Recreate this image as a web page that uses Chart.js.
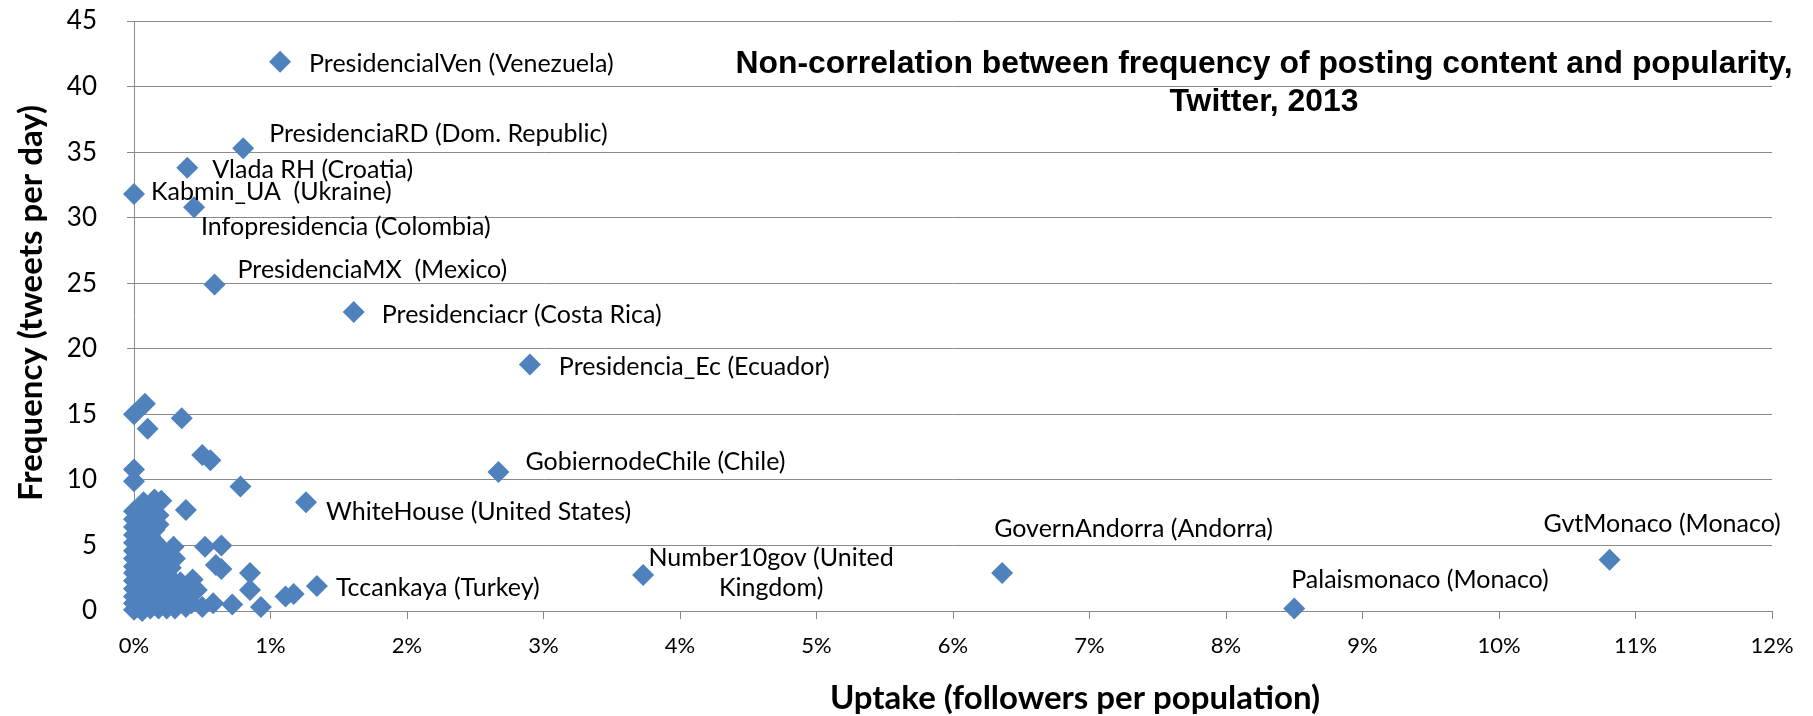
<!DOCTYPE html>
<html>
<head>
<meta charset="utf-8">
<script src="https://cdn.jsdelivr.net/npm/chart.js@4.4.1/dist/chart.umd.min.js"></script>
<style>
  html, body { margin: 0; padding: 0; background: #ffffff; overflow: hidden; }
  #wrap { width: 1813px; height: 716px; position: relative; }
</style>
</head>
<body>
<div id="wrap"><canvas id="chart" width="1813" height="716"></canvas></div>
<script>
// ---------- DATA ----------
const chartTitleLines = ['Non-correlation between frequency of posting content and popularity,', 'Twitter, 2013'];
const xAxisTitle = 'Uptake (followers per population)';
const yAxisTitle = 'Frequency (tweets per day)';

const xTickValues = [0, 1, 2, 3, 4, 5, 6, 7, 8, 9, 10, 11, 12];        // percent
const yTickValues = [0, 5, 10, 15, 20, 25, 30, 35, 40, 45];

const namedAccounts = [
  'PresidencialVen (Venezuela)',
  'PresidenciaRD (Dom. Republic)',
  'Vlada RH (Croatia)',
  'Kabmin_UA  (Ukraine)',
  'Infopresidencia (Colombia)',
  'PresidenciaMX  (Mexico)',
  'Presidenciacr (Costa Rica)',
  'Presidencia_Ec (Ecuador)',
  'GobiernodeChile (Chile)',
  'WhiteHouse (United States)',
  'Tccankaya (Turkey)',
  'Number10gov (United Kingdom)',
  'GovernAndorra (Andorra)',
  'Palaismonaco (Monaco)',
  'GvtMonaco (Monaco)'
];
const namedUptake    = [1.07, 0.80, 0.39, 0.00, 0.44, 0.59, 1.61, 2.90, 2.67, 1.26, 1.34, 3.73, 6.36, 8.50, 10.81];
const namedFrequency = [41.9, 35.3, 33.8, 31.8, 30.8, 24.9, 22.8, 18.8, 10.6, 8.3, 1.9, 2.75, 2.9, 0.2, 3.9];

const otherUptake = [
  0.08, 0.00, 0.10, 0.35, 0.50, 0.56, 0.00, 0.00, 0.78, 0.38,
  0.52, 0.64, 0.64, 0.60, 0.85, 0.85, 0.93, 1.11, 1.17, 0.72, 0.58, 0.46, 0.43, 0.50, 0.29,
  0.00, 0.00, 0.00, 0.00, 0.00, 0.00, 0.00, 0.00, 0.00, 0.00, 0.00, 0.00, 0.00, 0.00,
  0.03, 0.03, 0.03, 0.03, 0.03, 0.03, 0.03, 0.03, 0.03, 0.03, 0.03, 0.03, 0.03,
  0.06, 0.06, 0.06, 0.06, 0.06, 0.06, 0.06, 0.06, 0.06, 0.06, 0.06, 0.06, 0.06, 0.07,
  0.09, 0.09, 0.09, 0.09, 0.09, 0.09, 0.09, 0.09, 0.09, 0.09,
  0.12, 0.12, 0.12, 0.12, 0.12, 0.12, 0.12, 0.12, 0.12,
  0.15, 0.15, 0.15, 0.15, 0.15, 0.15, 0.15, 0.15, 0.15,
  0.18, 0.18, 0.18, 0.18, 0.18, 0.18, 0.18, 0.18, 0.18, 0.20,
  0.21, 0.21, 0.21, 0.21, 0.21, 0.21,
  0.24, 0.24, 0.24, 0.24, 0.24, 0.24,
  0.27, 0.27, 0.27, 0.27,
  0.30, 0.30, 0.30, 0.30,
  0.34, 0.34, 0.34,
  0.38, 0.38, 0.42, 0.42
];
const otherFrequency = [
  15.8, 15.0, 13.9, 14.7, 11.9, 11.5, 10.8, 9.9, 9.5, 7.7,
  4.9, 5.0, 3.2, 3.5, 2.9, 1.6, 0.3, 1.1, 1.3, 0.5, 0.6, 1.6, 2.4, 0.3, 4.9,
  0.1, 0.6, 1.1, 1.7, 2.3, 2.9, 3.4, 4.0, 4.6, 5.2, 5.8, 6.4, 7.0, 7.6,
  0.3, 0.9, 1.5, 2.1, 2.7, 3.3, 3.9, 4.5, 5.0, 5.6, 6.2, 6.9, 7.4,
  0.0, 0.7, 1.3, 1.9, 2.5, 3.1, 3.7, 4.3, 4.9, 5.5, 6.1, 6.7, 7.9, 8.3,
  0.4, 1.0, 1.6, 2.2, 2.8, 4.0, 4.6, 5.3, 6.0, 7.1,
  0.2, 0.9, 1.8, 2.5, 4.3, 5.0, 5.7, 6.5, 7.5,
  0.5, 1.3, 2.0, 3.0, 3.8, 4.6, 5.3, 6.2, 8.5,
  0.2, 1.0, 1.7, 2.6, 3.5, 4.2, 5.0, 6.6, 7.3, 8.4,
  0.6, 1.4, 2.2, 3.1, 3.9, 4.6,
  0.2, 1.0, 1.8, 2.8, 3.6, 4.3,
  0.6, 1.5, 2.4, 3.3,
  0.2, 1.1, 2.0, 4.0,
  0.7, 1.5, 2.2,
  0.3, 1.1, 0.6, 1.4
];

// ---------- LAYOUT / STYLE ----------
const BLUE = '#4F81BD';
const GRID = '#8a8a8a';
const LABEL_FONT = '25px Lato';
const Y_TICK_FONT = { family: 'Lato', size: 26 };
const X_TICK_FONT = { family: 'Lato', size: 22 };
const AXIS_TITLE_FONT = 'bold 33px Lato';
const TITLE_FONT = 'bold 31px "Liberation Sans"';
const TITLE_WIDTH = 1057;

// label offset from its point, in pixels: [dx, dy, mode]
const labelOffsets = [
  [29, 2], [26, -14], [25, 2], [17, -2], [7, 20], [23, -15], [28, 3], [29, 2],
  [27, -10], [20, 10], [19, 2], [128, -2, 'wrap'], [-8, -44], [-3, -28], [-66, -36]
];

const namedPoints = namedUptake.map((x, i) => ({ x, y: namedFrequency[i] }));
const otherPoints = otherUptake.map((x, i) => ({ x, y: otherFrequency[i] }));

const textPlugin = {
  id: 'textPlugin',
  afterDatasetsDraw(chart) {
    const { ctx, scales: { x: xs, y: ys } } = chart;
    ctx.save();
    ctx.fillStyle = '#000';
    ctx.font = LABEL_FONT;
    ctx.textBaseline = 'middle';
    namedAccounts.forEach((name, i) => {
      const px = xs.getPixelForValue(namedUptake[i]);
      const py = ys.getPixelForValue(namedFrequency[i]);
      const [dx, dy, mode] = labelOffsets[i];
      if (mode === 'wrap') {
        const words = name.split(' ');
        const lines = [words.slice(0, 2).join(' '), words.slice(2).join(' ')];
        ctx.textAlign = 'center';
        ctx.fillText(lines[0], px + dx, py + dy - 15);
        ctx.fillText(lines[1], px + dx, py + dy + 15);
      } else {
        ctx.textAlign = 'left';
        ctx.fillText(name, px + dx, py + dy);
      }
    });
    ctx.restore();
  },
  afterDraw(chart) {
    const { ctx } = chart;
    ctx.save();
    ctx.fillStyle = '#000';
    // chart title (first line stretched to the reference width)
    ctx.font = TITLE_FONT;
    ctx.textAlign = 'center';
    ctx.textBaseline = 'middle';
    const sx = TITLE_WIDTH / ctx.measureText(chartTitleLines[0]).width;
    ctx.save();
    ctx.translate(1264, 0);
    ctx.scale(sx, 1);
    ctx.fillText(chartTitleLines[0], 0, 64);
    ctx.fillText(chartTitleLines[1], 0, 102);
    ctx.restore();
    // axis titles
    ctx.font = AXIS_TITLE_FONT;
    ctx.fillText(xAxisTitle, 1075, 698);
    ctx.translate(31, 303);
    ctx.rotate(-Math.PI / 2);
    ctx.fillText(yAxisTitle, 0, 0);
    ctx.restore();
  }
};

new Chart(document.getElementById('chart'), {
  type: 'scatter',
  data: {
    datasets: [
      { data: otherPoints, backgroundColor: BLUE, borderColor: BLUE, borderWidth: 0, clip: false,
        pointStyle: 'rectRot', pointRadius: 11, pointHoverRadius: 11 },
      { data: namedPoints, backgroundColor: BLUE, borderColor: BLUE, borderWidth: 0, clip: false,
        pointStyle: 'rectRot', pointRadius: 11, pointHoverRadius: 11 }
    ]
  },
  options: {
    responsive: false,
    animation: false,
    devicePixelRatio: 1,
    layout: { padding: { top: 21, right: 41, left: 0, bottom: 0 } },
    plugins: { legend: { display: false }, tooltip: { enabled: false }, title: { display: false } },
    scales: {
      x: {
        type: 'linear', min: 0, max: 12,
        afterFit: s => { s.height = 105; s.paddingLeft = 0; s.paddingRight = 0; },
        afterBuildTicks: s => { s.ticks = xTickValues.map(v => ({ value: v })); },
        ticks: { callback: v => v + '%', font: X_TICK_FONT, color: '#000', padding: 14, maxRotation: 0, autoSkip: false },
        grid: { drawOnChartArea: false, drawTicks: true, tickLength: 8, color: GRID },
        border: { display: true, color: GRID, width: 1 }
      },
      y: {
        type: 'linear', min: 0, max: 45,
        afterFit: s => { s.width = 134; s.paddingTop = 0; s.paddingBottom = 0; },
        afterBuildTicks: s => { s.ticks = yTickValues.map(v => ({ value: v })); },
        ticks: { font: Y_TICK_FONT, color: '#000', padding: 30 },
        grid: { drawOnChartArea: true, drawTicks: true, tickLength: 7, color: GRID },
        border: { display: true, color: GRID, width: 1 }
      }
    }
  },
  plugins: [textPlugin]
});
</script>
</body>
</html>
